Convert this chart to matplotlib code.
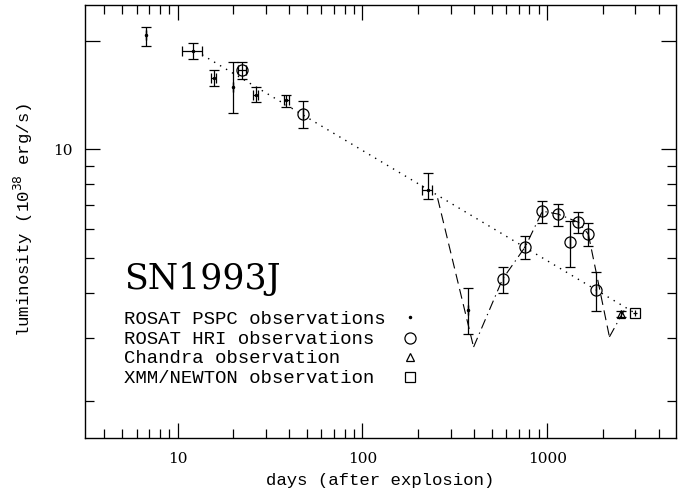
import matplotlib
matplotlib.use("Agg")
import matplotlib.pyplot as plt
from matplotlib.ticker import FixedLocator, FixedFormatter, NullFormatter

# ROSAT PSPC observations
pspc_days = [6.74, 12.05, 15.7, 20.0, 26.4, 38.7, 225.0, 373.0]
pspc_days_lo = [6.74, 10.56, 15.2, 20.0, 25.6, 37.5, 211.0, 373.0]
pspc_days_hi = [6.74, 13.56, 16.2, 20.0, 27.2, 39.9, 239.0, 373.0]
pspc_lum = [20.8, 18.8, 15.8, 14.9, 14.2, 13.7, 7.72, 3.58]
pspc_lum_lo = [19.4, 17.8, 15.0, 12.6, 13.5, 13.1, 7.27, 3.07]
pspc_lum_hi = [21.9, 19.7, 16.6, 17.5, 14.9, 14.2, 8.59, 4.12]

# ROSAT HRI observations
hri_days = [22.3, 47.6, 573, 760, 940, 1138, 1327, 1473, 1667, 1837]
hri_days_lo = [21.2, 47.6, 573, 760, 940, 1138, 1327, 1473, 1667, 1837]
hri_days_hi = [23.4, 47.6, 573, 760, 940, 1138, 1327, 1473, 1667, 1837]
hri_lum = [16.6, 12.55, 4.37, 5.37, 6.74, 6.62, 5.55, 6.28, 5.82, 4.07]
hri_lum_lo = [15.7, 11.5, 3.99, 4.96, 6.26, 6.14, 4.73, 5.85, 5.39, 3.56]
hri_lum_hi = [17.5, 13.6, 4.71, 5.75, 7.21, 7.05, 6.33, 6.69, 6.24, 4.56]

# Chandra observation
chandra_days = [2510]
chandra_lum = [3.49]
chandra_lum_lo = [3.42]
chandra_lum_hi = [3.56]

# XMM/NEWTON observation
xmm_days = [2985]
xmm_days_lo = [2920]
xmm_days_hi = [3050]
xmm_lum = [3.52]
xmm_lum_lo = [3.45]
xmm_lum_hi = [3.59]

# power-law fit (dotted)
fit_days = [13.56, 2914]
fit_lum = [18.3, 3.54]

# model curve
model_days = [255, 399, 573, 760, 940, 1138, 1473, 1667, 2168, 2670]
model_lum = [7.32, 2.83, 4.37, 5.37, 6.74, 6.62, 6.28, 5.82, 3.02, 3.66]

x_major = [10, 100, 1000]
x_major_labels = ["10", "100", "1000"]
x_minor = [4, 5, 6, 7, 8, 9, 20, 30, 40, 50, 60, 70, 80, 90,
           200, 300, 400, 500, 600, 700, 800, 900, 2000, 3000, 4000]
y_major = [10, 20]
y_major_labels = ["10", ""]
y_minor = [2, 3, 4, 5, 6, 7, 8, 9]

legend_labels = ["ROSAT PSPC observations", "ROSAT HRI observations",
                 "Chandra observation", "XMM/NEWTON observation"]
title_text = "SN1993J"

fig = plt.figure(figsize=(6.91, 4.95), dpi=100)
ax = fig.add_axes([84.7 / 691, 1 - 438.3 / 495, (676.5 - 84.7) / 691, (438.3 - 4.7) / 495])
ax.set_xscale("log")
ax.set_yscale("log")
ax.set_xlim(3.14, 5000)
ax.set_ylim(1.58, 25.2)

def errs(v, lo, hi):
    return [[a - b for a, b in zip(v, lo)], [c - a for a, c in zip(v, hi)]]

ekw = dict(ecolor="black", elinewidth=0.9, capsize=3.6, capthick=0.9, color="black", linestyle="none")

ax.errorbar(pspc_days, pspc_lum, yerr=errs(pspc_lum, pspc_lum_lo, pspc_lum_hi),
            xerr=errs(pspc_days, pspc_days_lo, pspc_days_hi), marker=".", markersize=3, **ekw)
ax.errorbar(hri_days, hri_lum, yerr=errs(hri_lum, hri_lum_lo, hri_lum_hi),
            xerr=errs(hri_days, hri_days_lo, hri_days_hi), marker="o", markersize=8,
            markerfacecolor="none", markeredgecolor="black", markeredgewidth=0.9, **ekw)
ax.errorbar(chandra_days, chandra_lum, yerr=errs(chandra_lum, chandra_lum_lo, chandra_lum_hi),
            marker="^", markersize=6, markerfacecolor="none", markeredgecolor="black",
            markeredgewidth=0.9, **ekw)
ax.errorbar(xmm_days, xmm_lum, yerr=errs(xmm_lum, xmm_lum_lo, xmm_lum_hi),
            xerr=errs(xmm_days, xmm_days_lo, xmm_days_hi), marker="s", markersize=6.5,
            markerfacecolor="none", markeredgecolor="black", markeredgewidth=0.9,
            ecolor="black", elinewidth=0.9, capsize=0, color="black", linestyle="none")

ax.plot(fit_days, fit_lum, color="black", lw=1.0, linestyle=(0, (1, 4)))

dashed = dict(color="black", lw=0.8, linestyle=(0, (9, 5)))
dashdot = dict(color="black", lw=0.8, linestyle=(0, (9, 4, 1.2, 4)))
ax.plot(model_days[0:2], model_lum[0:2], **dashed)
ax.plot(model_days[1:8], model_lum[1:8], **dashdot)
ax.plot(model_days[7:9], model_lum[7:9], **dashed)
ax.plot(model_days[8:10], model_lum[8:10], **dashdot)

# ticks
ax.xaxis.set_major_locator(FixedLocator(x_major))
ax.xaxis.set_major_formatter(FixedFormatter(x_major_labels))
ax.xaxis.set_minor_locator(FixedLocator(x_minor))
ax.xaxis.set_minor_formatter(NullFormatter())
ax.yaxis.set_major_locator(FixedLocator(y_major))
ax.yaxis.set_major_formatter(FixedFormatter(y_major_labels))
ax.yaxis.set_minor_locator(FixedLocator(y_minor))
ax.yaxis.set_minor_formatter(NullFormatter())
ax.tick_params(which="both", direction="in", top=True, right=True, color="black", width=0.9)
ax.tick_params(which="major", length=11)
ax.tick_params(which="minor", length=6.5)
ax.tick_params(axis="x", which="major", pad=10)
ax.tick_params(axis="y", which="major", pad=9)
for lab in ax.get_xticklabels() + ax.get_yticklabels():
    lab.set_fontfamily("DejaVu Serif")
    lab.set_fontsize(11)
for sp in ax.spines.values():
    sp.set_linewidth(1.0)
    sp.set_color("black")

# labels
fig.text(380.6 / 691, 1 - 480 / 495, "days (after explosion)", ha="center", va="center",
         fontfamily="Liberation Mono", fontsize=12.5)
fig.text(23 / 691, 1 - 220 / 495, r"luminosity (10$^{38}$ erg/s)", ha="center", va="center",
         rotation=90, fontfamily="Liberation Mono", fontsize=12.5)

# legend block
ax.text(0.066, 0.3685, title_text, transform=ax.transAxes, ha="left", va="center",
        fontfamily="DejaVu Serif", fontsize=25)
rows = [0.275, 0.227, 0.183, 0.137]
mk = [dict(marker=".", markersize=3),
      dict(marker="o", markersize=8, markerfacecolor="none", markeredgewidth=0.9),
      dict(marker="^", markersize=6, markerfacecolor="none", markeredgewidth=0.9),
      dict(marker="s", markersize=6.5, markerfacecolor="none", markeredgewidth=0.9)]
for lab, yy, m in zip(legend_labels, rows, mk):
    ax.text(0.066, yy, lab, transform=ax.transAxes, ha="left", va="center",
            fontfamily="Liberation Mono", fontsize=13.7)
    ax.plot([0.5497], [yy + 0.005], transform=ax.transAxes, color="black", linestyle="none",
            markeredgecolor="black", **m)

fig.savefig("out.png", dpi=100)
